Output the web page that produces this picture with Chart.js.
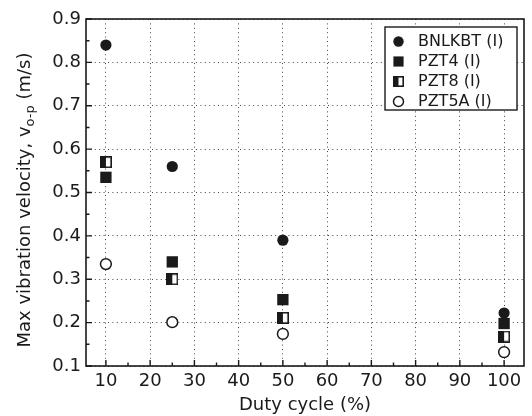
<!DOCTYPE html>
<html>
<head>
<meta charset="utf-8">
<script src="https://cdn.jsdelivr.net/npm/chart.js@4/dist/chart.umd.min.js"></script>
<style>
  html, body { margin: 0; padding: 0; background: #fff; }
  canvas { display: block; }
</style>
</head>
<body>
<canvas id="chart" width="532" height="416"></canvas>
<script>
// Duty cycle (%) at which each material was driven
const dutyCycle = [10, 25, 50, 100];

// Max vibration velocity v0-p (m/s) per material
const bnlkbt = [0.84, 0.56, 0.39, 0.222];
const pzt4   = [0.535, 0.34, 0.253, 0.198];
const pzt8   = [0.57, 0.30, 0.211, 0.168];
const pzt5a  = [0.335, 0.201, 0.174, 0.132];

const seriesNames = ['BNLKBT (I)', 'PZT4 (I)', 'PZT8 (I)', 'PZT5A (I)'];

// Axis ticks
const xTicks = [10, 20, 30, 40, 50, 60, 70, 80, 90, 100];
const xMinorTicks = [15, 25, 35, 45, 55, 65, 75, 85, 95];
const yTicks = [0.1, 0.2, 0.3, 0.4, 0.5, 0.6, 0.7, 0.8, 0.9];
const yMinorTicks = [0.15, 0.25, 0.35, 0.45, 0.55, 0.65, 0.75, 0.85];

const xTitle = 'Duty cycle (%)';
const yTitleMain = 'Max vibration velocity, v';
const yTitleSub = 'o-p';
const yTitleTail = ' (m/s)';

const ink = '#1a1a1a';
const FONT = 'DejaVu Sans';

// Square marker: left half filled, right half open
function halfSquare(size, lw) {
  const c = document.createElement('canvas');
  c.width = size; c.height = size;
  const g = c.getContext('2d');
  g.fillStyle = '#fff';
  g.fillRect(0, 0, size, size);
  g.fillStyle = ink;
  g.fillRect(0, 0, size / 2, size);
  g.strokeStyle = ink;
  g.lineWidth = lw;
  g.strokeRect(lw / 2, lw / 2, size - lw, size - lw);
  return c;
}
const halfSquareMark = halfSquare(12, 1.6);
const halfSquareLegend = halfSquare(11, 1.6);

const toPoints = ys => dutyCycle.map((x, i) => ({ x, y: ys[i] }));

const datasets = [
  { label: seriesNames[0], data: toPoints(bnlkbt), pointStyle: 'circle', pointRadius: 5.6,
    backgroundColor: ink, borderColor: ink, borderWidth: 0, order: 4 },
  { label: seriesNames[1], data: toPoints(pzt4), pointStyle: 'rect', pointRadius: 8,
    backgroundColor: ink, borderColor: ink, borderWidth: 0, order: 3 },
  { label: seriesNames[2], data: toPoints(pzt8), pointStyle: halfSquareMark, pointRadius: 6,
    backgroundColor: ink, borderColor: ink, borderWidth: 0, order: 2 },
  { label: seriesNames[3], data: toPoints(pzt5a), pointStyle: 'circle', pointRadius: 5.4,
    backgroundColor: '#fff', borderColor: ink, borderWidth: 1.5, order: 1 }
];

const legendStyles = [
  { pointStyle: 'circle', radius: 5.2, fill: ink, stroke: ink, borderWidth: 0 },
  { pointStyle: 'rect', radius: 7.2, fill: ink, stroke: ink, borderWidth: 0 },
  { pointStyle: halfSquareLegend, radius: 5.5, fill: ink, stroke: ink, borderWidth: 0 },
  { pointStyle: 'circle', radius: 5, fill: '#fff', stroke: ink, borderWidth: 1.5 }
];

// Plot frame with inward major/minor ticks on the left and bottom
const framePlugin = {
  id: 'frame',
  beforeDatasetsDraw(chart) {
    const { ctx, chartArea: a, scales: { x, y } } = chart;
    ctx.save();
    ctx.strokeStyle = ink;
    ctx.lineWidth = 1.4;
    ctx.beginPath();
    xTicks.forEach(v => { const p = x.getPixelForValue(v); ctx.moveTo(p, a.bottom); ctx.lineTo(p, a.bottom - 6); });
    xMinorTicks.forEach(v => { const p = x.getPixelForValue(v); ctx.moveTo(p, a.bottom); ctx.lineTo(p, a.bottom - 3.5); });
    yTicks.forEach(v => { const p = y.getPixelForValue(v); ctx.moveTo(a.left, p); ctx.lineTo(a.left + 6, p); });
    yMinorTicks.forEach(v => { const p = y.getPixelForValue(v); ctx.moveTo(a.left, p); ctx.lineTo(a.left + 3.5, p); });
    ctx.stroke();
    ctx.lineWidth = 1.6;
    ctx.strokeRect(a.left, a.top, a.right - a.left, a.bottom - a.top);
    ctx.restore();
  }
};

// Y axis title with the "o-p" subscript
const yTitlePlugin = {
  id: 'yTitle',
  afterDraw(chart) {
    const { ctx } = chart;
    const main = '18px "' + FONT + '"';
    const sub = '13px "' + FONT + '"';
    ctx.save();
    ctx.fillStyle = ink;
    ctx.textBaseline = 'alphabetic';
    ctx.textAlign = 'left';
    ctx.font = main;
    const w1 = ctx.measureText(yTitleMain).width;
    const w3 = ctx.measureText(yTitleTail).width;
    ctx.font = sub;
    const w2 = ctx.measureText(yTitleSub).width;
    const total = w1 + w2 + w3;
    ctx.translate(30, 200);
    ctx.rotate(-Math.PI / 2);
    let cx = -total / 2;
    ctx.font = main;
    ctx.fillText(yTitleMain, cx, 0);
    cx += w1;
    ctx.font = sub;
    ctx.fillText(yTitleSub, cx, 4);
    cx += w2;
    ctx.font = main;
    ctx.fillText(yTitleTail, cx, 0);
    ctx.restore();
  }
};

// Boxed legend in the upper right of the plot
const legendPlugin = {
  id: 'boxLegend',
  afterDatasetsDraw(chart) {
    const { ctx, chartArea: a } = chart;
    const left = a.right - 139, top = a.top + 8, w = 132, h = 83;
    ctx.save();
    ctx.fillStyle = '#fff';
    ctx.fillRect(left, top, w, h);
    ctx.strokeStyle = ink;
    ctx.lineWidth = 1.4;
    ctx.strokeRect(left, top, w, h);
    ctx.font = '16px "' + FONT + '"';
    ctx.textBaseline = 'middle';
    ctx.textAlign = 'left';
    chart.data.datasets.forEach((ds, i) => {
      const cy = top + 14.5 + i * 20;
      const st = legendStyles[i];
      ctx.fillStyle = st.fill;
      ctx.strokeStyle = st.stroke;
      ctx.lineWidth = st.borderWidth;
      Chart.helpers.drawPoint(ctx, { pointStyle: st.pointStyle, radius: st.radius, rotation: 0, borderWidth: st.borderWidth }, left + 13.5, cy);
      ctx.fillStyle = ink;
      ctx.fillText(ds.label, left + 33, cy + 0.5);
    });
    ctx.restore();
  }
};

Chart.defaults.font.family = FONT;
Chart.defaults.color = ink;

new Chart(document.getElementById('chart'), {
  type: 'scatter',
  data: { datasets },
  options: {
    responsive: false,
    devicePixelRatio: 1,
    animation: false,
    events: [],
    layout: { padding: { top: 19, right: 5, left: 0, bottom: 0 } },
    plugins: { legend: { display: false }, tooltip: { enabled: false } },
    scales: {
      x: {
        type: 'linear',
        min: 5.5,
        max: 104.5,
        afterBuildTicks: s => { s.ticks = xTicks.map(v => ({ value: v })); },
        afterFit: s => { s.height = 50; },
        ticks: { font: { size: 18 }, padding: 5, color: ink, maxRotation: 0, autoSkip: false },
        grid: { color: '#444', lineWidth: 1, drawTicks: false },
        border: { display: false, dash: [1, 3.4] },
        title: { display: true, text: xTitle, font: { size: 18 }, color: ink, padding: { top: 0, bottom: 0 } }
      },
      y: {
        type: 'linear',
        min: 0.1,
        max: 0.9,
        afterBuildTicks: s => { s.ticks = yTicks.map(v => ({ value: v })); },
        afterFit: s => { s.width = 86; },
        ticks: { font: { size: 18 }, padding: 5, color: ink, callback: v => v.toFixed(1), autoSkip: false },
        grid: { color: '#444', lineWidth: 1, drawTicks: false },
        border: { display: false, dash: [1, 3.4] }
      }
    }
  },
  plugins: [framePlugin, legendPlugin, yTitlePlugin]
});
</script>
</body>
</html>
